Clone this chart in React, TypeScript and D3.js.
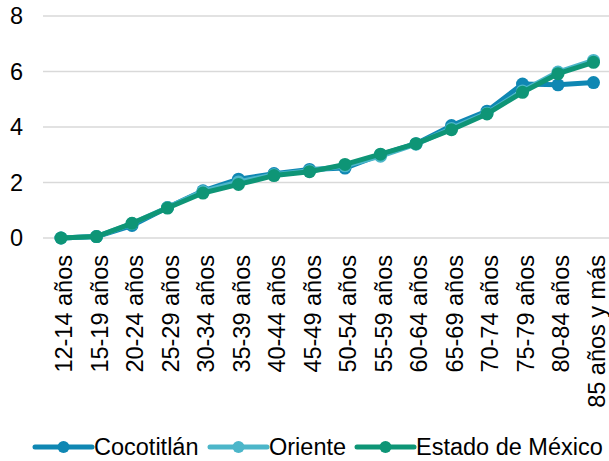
import React from 'react';
import * as d3 from 'd3';

const categories = [
  '12-14 años', '15-19 años', '20-24 años', '25-29 años', '30-34 años', '35-39 años',
  '40-44 años', '45-49 años', '50-54 años', '55-59 años', '60-64 años', '65-69 años',
  '70-74 años', '75-79 años', '80-84 años', '85 años y más',
];

const cocotitlan = [0, 0.05, 0.45, 1.1, 1.7, 2.12, 2.32, 2.47, 2.52, 3.0, 3.4, 4.05, 4.57, 5.55, 5.52, 5.6];
const oriente = [0, 0.05, 0.52, 1.1, 1.68, 2.02, 2.28, 2.42, 2.6, 2.95, 3.38, 3.95, 4.5, 5.3, 5.98, 6.4];
const estadoMexico = [0, 0.05, 0.53, 1.08, 1.62, 1.93, 2.25, 2.39, 2.65, 3.02, 3.4, 3.9, 4.47, 5.25, 5.92, 6.33];

const yTicks = [0, 2, 4, 6, 8];

const series = [
  { name: 'Cocotitlán', values: cocotitlan, color: '#0f87b3' },
  { name: 'Oriente', values: oriente, color: '#4cb6c9' },
  { name: 'Estado de México', values: estadoMexico, color: '#0e9576' },
];

const width = 609;
const height = 461;
const font = '"Liberation Sans", Arial, sans-serif';
const fontSize = 23.5;

export default function App() {
  const x = d3.scaleBand<string>().domain(categories).range([43.25, 611.25]);
  const y = d3.scaleLinear().domain([0, 8]).range([238, 16]);
  const cx = (c: string) => (x(c) ?? 0) + x.bandwidth() / 2;

  const line = d3
    .line<number>()
    .x((_, i) => cx(categories[i]))
    .y((d) => y(d));

  // legend layout: line sample + label
  const legendX = [35, 210, 357];

  return (
    <div style={{ position: 'absolute', left: 0, top: 0 }}>
      <svg width={width} height={height} style={{ display: 'block', background: '#fff' }}>
        {/* grid + y labels */}
        {yTicks.map((t) => (
          <g key={t}>
            <line x1={43} x2={609} y1={y(t)} y2={y(t)} stroke="#d9d9d9" strokeWidth={1.5} />
            <text
              x={23}
              y={y(t)}
              dy="0.35em"
              textAnchor="end"
              fontFamily={font}
              fontSize={fontSize}
              fill="#000"
            >
              {t}
            </text>
          </g>
        ))}

        {/* x labels */}
        {categories.map((c) => (
          <text
            key={c}
            transform={`translate(${cx(c) + 11},255) rotate(-90)`}
            textAnchor="end"
            fontFamily={font}
            fontSize={fontSize}
            fill="#000"
          >
            {c}
          </text>
        ))}

        {/* series */}
        {series.map((s) => (
          <g key={s.name}>
            <path d={line(s.values) ?? ''} fill="none" stroke={s.color} strokeWidth={5} strokeLinejoin="round" />
            {s.values.map((v, i) => (
              <circle key={i} cx={cx(categories[i])} cy={y(v)} r={6.5} fill={s.color} />
            ))}
          </g>
        ))}

        {/* legend */}
        {series.map((s, i) => (
          <g key={s.name} transform={`translate(${legendX[i]},447)`}>
            <line x1={0} x2={57} y1={0} y2={0} stroke={s.color} strokeWidth={5} strokeLinecap="round" />
            <circle cx={28.5} cy={0} r={6} fill={s.color} />
            <text x={59} y={0} dy="0.35em" fontFamily={font} fontSize={fontSize} fill="#000">
              {s.name}
            </text>
          </g>
        ))}
      </svg>
    </div>
  );
}
